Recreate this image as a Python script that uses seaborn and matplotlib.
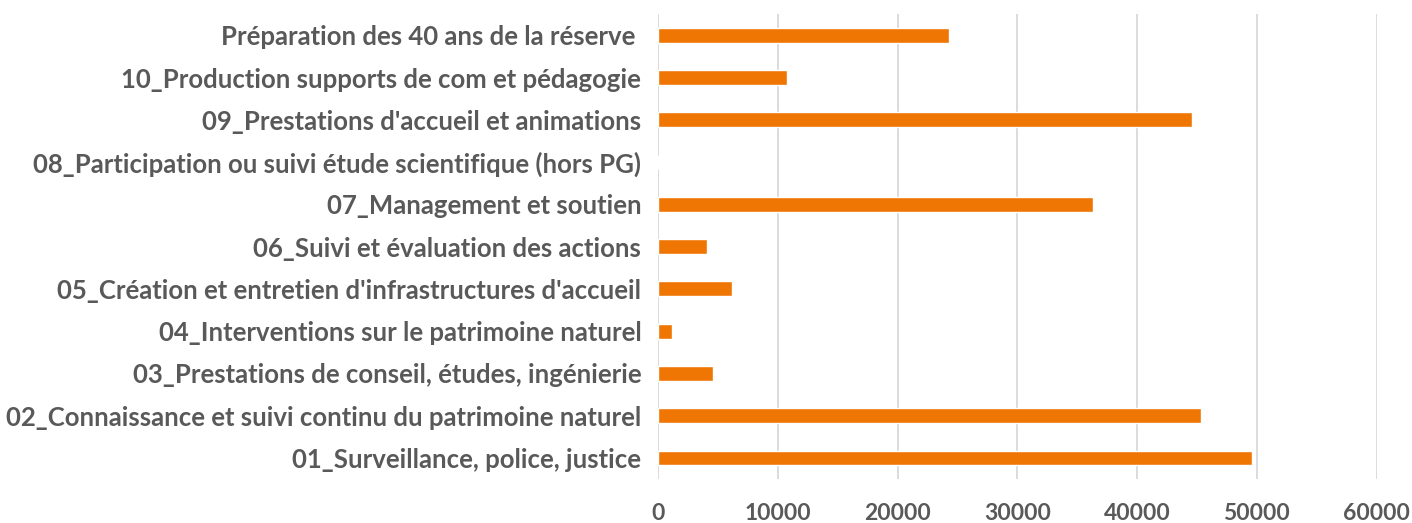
import matplotlib
matplotlib.use('Agg')
import matplotlib.pyplot as plt
import seaborn as sns
import pandas as pd

# Data (top to bottom)
categories = [
    "Préparation des 40 ans de la réserve ",
    "10_Production supports de com et pédagogie",
    "09_Prestations d'accueil et animations",
    "08_Participation ou suivi étude scientifique (hors PG)",
    "07_Management et soutien",
    "06_Suivi et évaluation des actions",
    "05_Création et entretien d'infrastructures d'accueil",
    "04_Interventions sur le patrimoine naturel",
    "03_Prestations de conseil, études, ingénierie",
    "02_Connaissance et suivi continu du patrimoine naturel",
    "01_Surveillance, police, justice",
]
values = [24300, 10800, 44600, 0, 36300, 4100, 6200, 1200, 4600, 45300, 49600]
xticks = [0, 10000, 20000, 30000, 40000, 50000, 60000]

df = pd.DataFrame({'cat': categories, 'val': values})

sns.set_theme(style='white')
plt.rcParams['font.family'] = ['Lato', 'DejaVu Sans']

fig = plt.figure(figsize=(14.12, 5.23), dpi=100)
ax = fig.add_axes([0.466, 0.084, 0.509, 0.889])

sns.barplot(data=df, y='cat', x='val', orient='h', color='#F07604',
            saturation=1, width=0.35, ax=ax)

ax.set_xlim(0, 60000)
ax.set_xticks(xticks)
ax.set_xticklabels([str(t) for t in xticks])
ax.grid(axis='x', color='#D9D9D9', linewidth=1.3)
ax.set_axisbelow(True)
for s in ax.spines.values():
    s.set_visible(False)
ax.tick_params(axis='both', length=0)
ax.tick_params(axis='y', pad=12)
ax.tick_params(axis='x', pad=17)
ax.set_xlabel('')
ax.set_ylabel('')
for lbl in ax.get_yticklabels():
    lbl.set_fontsize(18.5)
    lbl.set_fontweight('bold')
    lbl.set_color('#595959')
for lbl in ax.get_xticklabels():
    lbl.set_fontsize(16.5)
    lbl.set_fontweight('bold')
    lbl.set_color('#595959')

fig.savefig('out.png', dpi=100, facecolor='white')
